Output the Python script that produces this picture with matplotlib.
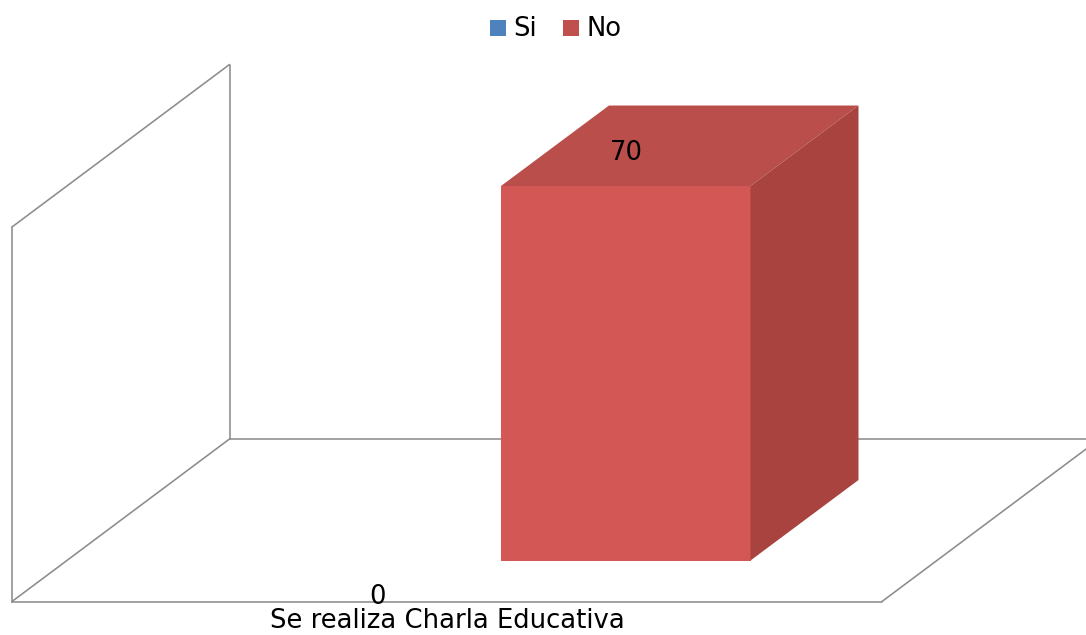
import matplotlib
matplotlib.use("Agg")
import matplotlib.pyplot as plt
from matplotlib.patches import Polygon, Rectangle

categories = ["Se realiza Charla Educativa"]
series_names = ["Si", "No"]
si_values = [0]
no_values = [70]
series_colors = ["#4F81BD", "#C0504D"]

W, H = 1086, 635
fig = plt.figure(figsize=(W / 100, H / 100), dpi=100)
ax = fig.add_axes([0, 0, 1, 1])
ax.set_xlim(0, W)
ax.set_ylim(H, 0)
ax.axis("off")

# Fake 3D box: front floor edge and back wall offset
dx, dy = 217.5, -162.5
x0, x1 = 12, 882
floor_y = 601.5
wall_top = 227
edge = "#8C8C8C"

def line(xs, ys):
    ax.plot(xs, ys, color=edge, lw=1.15, solid_capstyle="round", zorder=1)

line([x0, x0], [floor_y, wall_top])
line([x0, x0 + dx], [wall_top, wall_top + dy])
line([x0 + dx, x0 + dx], [wall_top + dy, floor_y + dy])
line([x0, x0 + dx], [floor_y, floor_y + dy])
line([x0, x1], [floor_y, floor_y])
line([x0 + dx, x1 + dx], [floor_y + dy, floor_y + dy])
line([x1, x1 + dx], [floor_y, floor_y + dy])

# Value axis mapped onto pixel rows of the bar's front face
bar_base = 560.5
px_per_unit = (560.5 - 186) / 70
bar_left, bar_right = 501, 750.5
depth_x, depth_y = 108, -80.5

h = no_values[0] * px_per_unit
top = bar_base - h
ax.add_patch(Rectangle((bar_left, top), bar_right - bar_left, h, fc="#D35855", ec="none", zorder=3))
ax.add_patch(Polygon([(bar_left, top), (bar_right, top),
                      (bar_right + depth_x, top + depth_y), (bar_left + depth_x, top + depth_y)],
                     closed=True, fc="#B94E4A", ec="none", zorder=3))
ax.add_patch(Polygon([(bar_right, top), (bar_right + depth_x, top + depth_y),
                      (bar_right + depth_x, bar_base + depth_y), (bar_right, bar_base)],
                     closed=True, fc="#A8433F", ec="none", zorder=3))

fs = 18.6
ax.text(626.5, 153.5, str(no_values[0]), fontsize=fs, ha="center", va="center", color="black", zorder=5)
ax.text(377.5, 597, str(si_values[0]), fontsize=fs, ha="center", va="center", color="black", zorder=5)
ax.text(447.5, 628.5, categories[0], fontsize=fs, ha="center", va="baseline", color="black", zorder=5)

# Legend
ax.add_patch(Rectangle((490, 20), 16, 16, fc=series_colors[0], ec="none"))
ax.text(513.5, 29, series_names[0], fontsize=fs, ha="left", va="center")
ax.add_patch(Rectangle((563, 20), 16, 16, fc=series_colors[1], ec="none"))
ax.text(586.5, 29, series_names[1], fontsize=fs, ha="left", va="center")

fig.savefig("out.png", dpi=100)
